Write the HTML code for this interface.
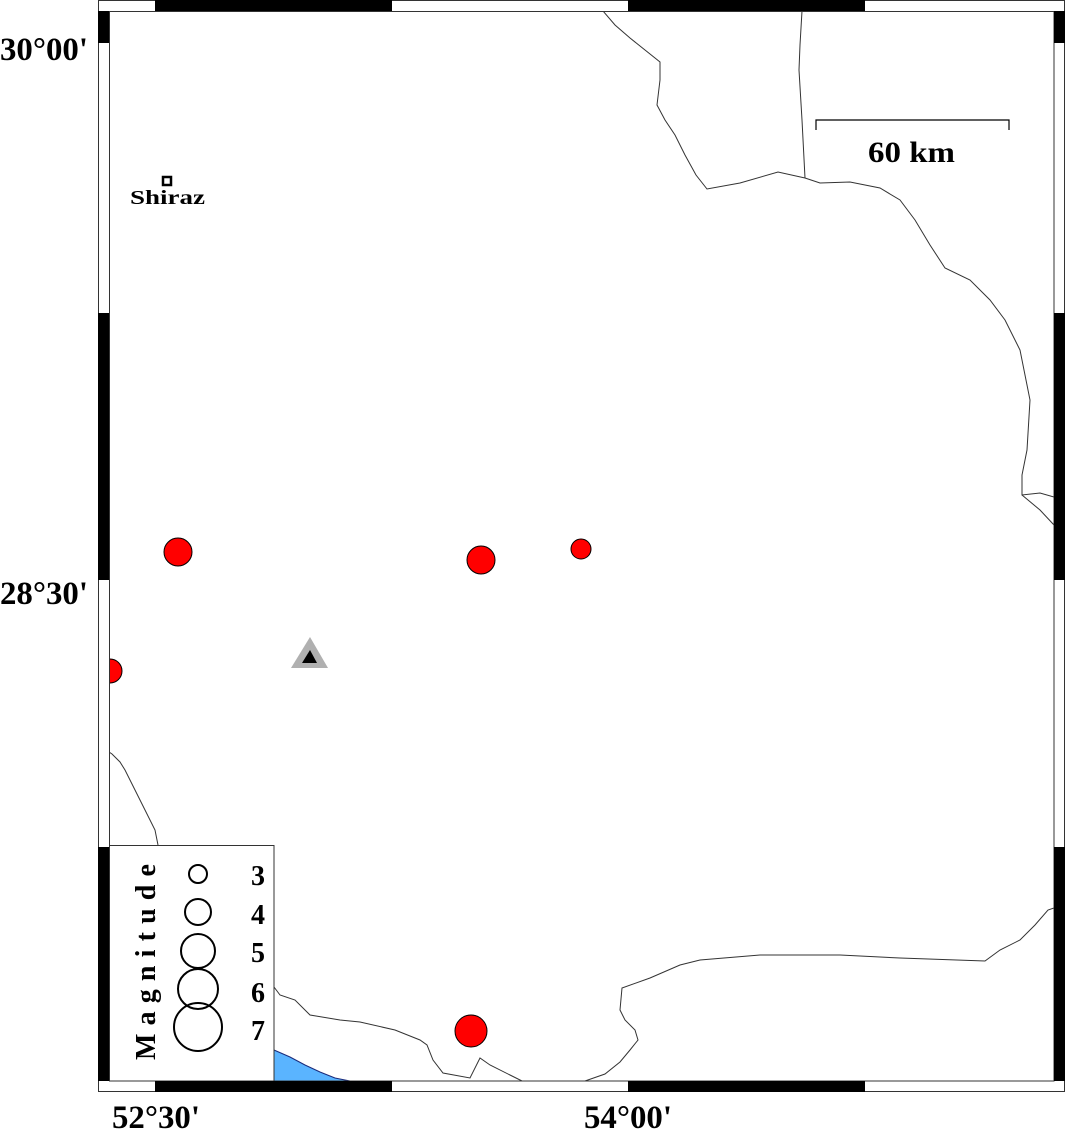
<!DOCTYPE html>
<html><head><meta charset="utf-8"><style>
html,body{margin:0;padding:0;background:#fff;}
svg{display:block;}
text{font-family:"Liberation Serif",serif;font-weight:bold;}
</style></head><body>
<svg width="1066" height="1130" viewBox="0 0 1066 1130" xmlns="http://www.w3.org/2000/svg">
<defs><clipPath id="c"><rect x="109.5" y="11.5" width="944.5" height="1069.5"/></clipPath></defs>
<rect x="0" y="0" width="1066" height="1130" fill="#fff"/>
<g clip-path="url(#c)" fill="none" stroke="#333" stroke-width="1">
<path d="M603,11 L615,25 L630,38 L645,50 L660,62 L660,80 L657,105 L665,120 L675,135 L685,155 L696,175 L707,189 L740,183 L778,172 L805,178"/>
<path d="M802,11 L800,45 L799,70 L802,120 L805,178"/>
<path d="M805,178 L820,183 L850,182 L880,188 L900,200 L915,220 L930,245 L945,268 L970,280 L990,300 L1005,320 L1020,350 L1030,400 L1027,450 L1022,475 L1022,495 L1040,493 L1054,497"/>
<path d="M1022,495 L1040,510 L1054,525"/>
<path d="M109,752 L112,754 L120,762 L125,770 L135,790 L145,810 L155,830 L158,845"/>
<path d="M274,987 L280,995 L295,1000 L310,1015 L340,1020 L360,1022 L395,1030 L420,1040 L427,1045 L433,1060 L443,1073 L470,1078 L480,1058 L490,1065 L510,1075 L522,1081"/>
<path d="M585,1081 L605,1074 L620,1062 L630,1050 L638,1040 L635,1030 L625,1020 L620,1010 L622,988 L650,978 L680,965 L700,960 L760,955 L840,955 L900,958 L985,961 L1000,950 L1020,940 L1035,925 L1048,910 L1054,908"/>
<path d="M274,1050 L290,1057 L305,1065 L320,1072 L335,1078 L350,1081 L274,1081 Z" fill="#5ab4ff" stroke="#1a2a7a"/>
<circle cx="110" cy="671" r="12" fill="#f00" stroke="#000"/>
</g>
<circle cx="178" cy="552" r="14" fill="#f00" stroke="#000"/>
<circle cx="481" cy="560" r="14" fill="#f00" stroke="#000"/>
<circle cx="581" cy="549" r="10" fill="#f00" stroke="#000"/>
<circle cx="471" cy="1031" r="16" fill="#f00" stroke="#000"/>
<polygon points="310,637 328,668 291,668" fill="#b0b0b0"/>
<polygon points="310,650 317,663 302,663" fill="#000"/>
<rect x="163" y="177" width="8" height="8" fill="#fff" stroke="#000" stroke-width="2.5"/>
<text x="130" y="204" font-size="20" textLength="75" lengthAdjust="spacingAndGlyphs">Shiraz</text>
<path d="M816,130 V120 H1009 V130" fill="none" stroke="#000" stroke-width="1.2"/>
<text x="868" y="162" font-size="30" textLength="87" lengthAdjust="spacingAndGlyphs">60 km</text>
<!-- legend -->
<rect x="109.5" y="845.5" width="164.5" height="235.5" fill="#fff" stroke="#333" stroke-width="1"/>
<g fill="none" stroke="#000" stroke-width="2">
<circle cx="198" cy="874" r="9"/><circle cx="198" cy="912" r="13"/><circle cx="198" cy="951" r="17"/><circle cx="198" cy="989" r="20"/><circle cx="198" cy="1027" r="24"/>
</g>
<g font-size="28" text-anchor="middle">
<text x="258" y="885">3</text><text x="258" y="924">4</text><text x="258" y="962">5</text><text x="258" y="1002">6</text><text x="258" y="1040">7</text>
</g>
<text transform="translate(155,1060) rotate(-90)" font-size="28" textLength="196" lengthAdjust="spacing">Magnitude</text>
<!-- frame -->
<rect x="98.5" y="0.5" width="966" height="1091" fill="none" stroke="#333"/>
<rect x="109.5" y="11.5" width="944.5" height="1069.5" fill="none" stroke="#333"/>
<g fill="#000">
<rect x="155" y="0" width="237" height="11"/><rect x="628" y="0" width="237" height="11"/>
<rect x="155" y="1081" width="237" height="11"/><rect x="628" y="1081" width="237" height="11"/>
<rect x="98" y="11" width="11" height="32"/><rect x="98" y="313" width="11" height="267"/><rect x="98" y="847" width="11" height="234"/>
<rect x="1054" y="11" width="11" height="32"/><rect x="1054" y="313" width="11" height="267"/><rect x="1054" y="847" width="11" height="234"/>
</g>
<g font-size="33">
<text x="0" y="60" textLength="88" lengthAdjust="spacingAndGlyphs">30°00'</text>
<text x="0" y="604" textLength="88" lengthAdjust="spacingAndGlyphs">28°30'</text>
<text x="112" y="1128" textLength="88" lengthAdjust="spacingAndGlyphs">52°30'</text>
<text x="584" y="1128" textLength="88" lengthAdjust="spacingAndGlyphs">54°00'</text>
</g>
</svg>
</body></html>
